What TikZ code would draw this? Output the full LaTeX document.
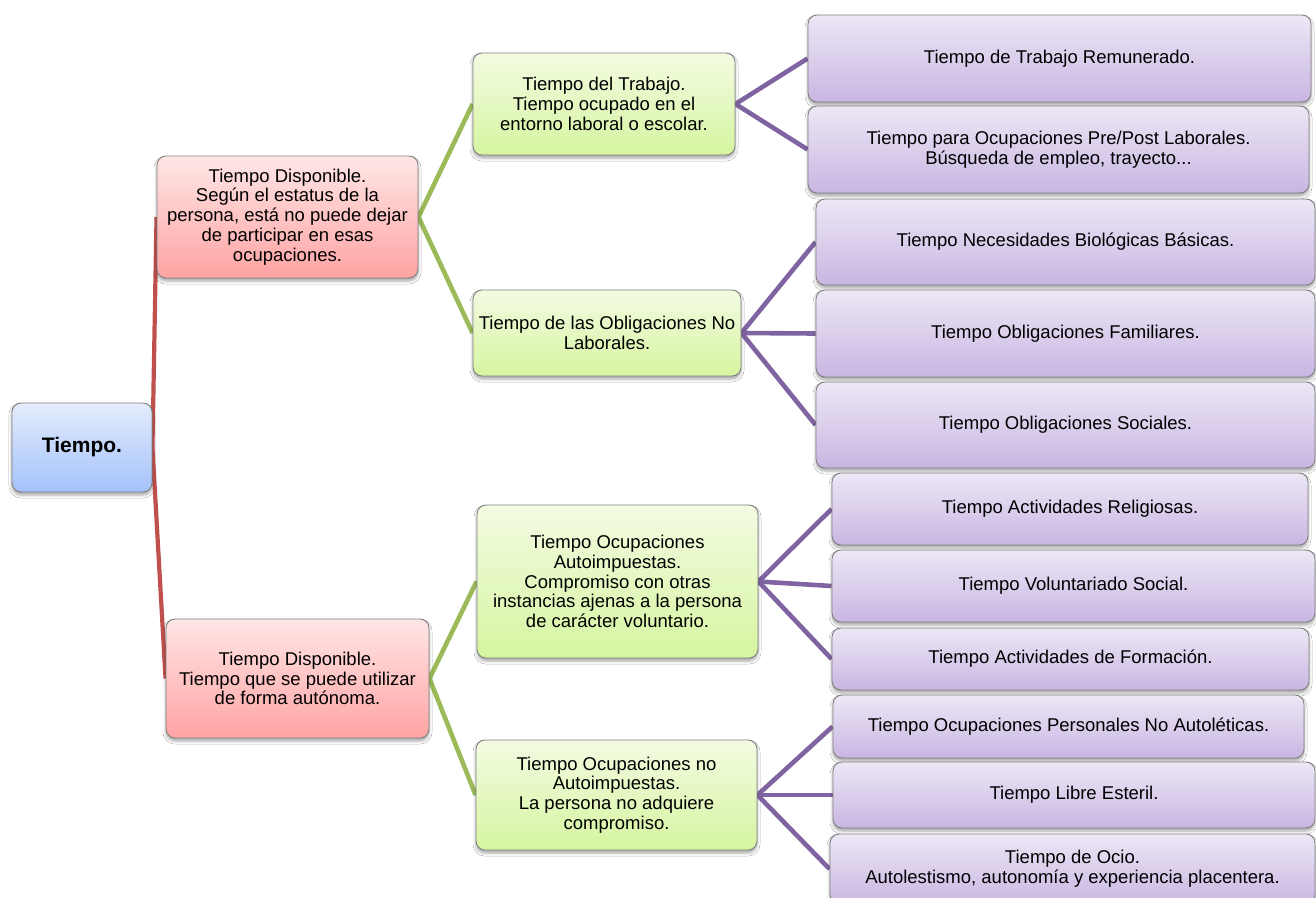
\documentclass[tikz,border=0pt]{standalone}
\usepackage{fontspec}
\setmainfont{Liberation Sans}
\usetikzlibrary{shadows.blur,backgrounds}

\definecolor{boxline}{RGB}{128,128,128}
\definecolor{blueTop}{RGB}{228,236,253}
\definecolor{blueBot}{RGB}{163,194,250}
\definecolor{redTop}{RGB}{255,230,230}
\definecolor{redBot}{RGB}{255,163,163}
\definecolor{greenTop}{RGB}{243,251,226}
\definecolor{greenBot}{RGB}{214,245,160}
\definecolor{lilacTop}{RGB}{237,231,246}
\definecolor{lilacBot}{RGB}{200,182,226}
\definecolor{redLink}{RGB}{192,80,77}
\definecolor{greenLink}{RGB}{155,187,89}
\definecolor{lilacLink}{RGB}{128,100,162}

\begin{document}
\begin{tikzpicture}[x=1pt,y=-1pt,
  box/.style={draw=boxline, line width=0.9pt, rounded corners=9pt,
    align=center, inner sep=2pt,
    font=\fontsize{18.5}{19.8}\selectfont,
    blur shadow={shadow xshift=0pt, shadow yshift=-3pt,
      shadow blur radius=3pt, shadow opacity=35}},
  rootbox/.style={box, top color=blueTop, bottom color=blueBot,
    font=\fontsize{21}{23}\selectfont\bfseries},
  redbox/.style={box, top color=redTop, bottom color=redBot},
  greenbox/.style={box, top color=greenTop, bottom color=greenBot},
  lilacbox/.style={box, top color=lilacTop, bottom color=lilacBot},
  redlink/.style={draw=redLink, line width=4.2pt},
  greenlink/.style={draw=greenLink, line width=4.6pt},
  lilaclink/.style={draw=lilacLink, line width=4.6pt}
]
\useasboundingbox (0,0) rectangle (1316,897);

% root
\node[rootbox, minimum width=140pt, minimum height=89pt] (root) at (82,447.5) {Tiempo.};

% second level
\node[redbox, minimum width=261pt, minimum height=122pt] (red1) at (287.5,217)
  {Tiempo Disponible.\\Según el estatus de la\\persona, está no puede dejar\\de participar en esas\\ocupaciones.};
\node[redbox, minimum width=263pt, minimum height=119pt] (red2) at (297.5,678.5)
  {Tiempo Disponible.\\Tiempo que se puede utilizar\\de forma autónoma.};

% third level
\node[greenbox, minimum width=262pt, minimum height=102pt] (g1) at (604,104)
  {Tiempo del Trabajo.\\Tiempo ocupado en el\\entorno laboral o escolar.};
\node[greenbox, minimum width=268pt, minimum height=86pt, inner sep=0pt] (g2) at (607,333)
  {Tiempo de las Obligaciones No\\Laborales.};
\node[greenbox, minimum width=281pt, minimum height=153pt] (g3) at (617.5,581.5)
  {Tiempo Ocupaciones\\Autoimpuestas.\\Compromiso con otras\\instancias ajenas a la persona\\de carácter voluntario.};
\node[greenbox, minimum width=281pt, minimum height=110pt] (g4) at (616.5,795)
  {Tiempo Ocupaciones no\\Autoimpuestas.\\La persona no adquiere\\compromiso.};

% fourth level
\node[lilacbox, minimum width=503pt, minimum height=87pt] (p1) at (1059.5,58.5)
  {Tiempo de Trabajo Remunerado.};
\node[lilacbox, minimum width=501pt, minimum height=87pt] (p2) at (1058.5,149.5)
  {Tiempo para Ocupaciones Pre/Post Laborales.\\Búsqueda de empleo, trayecto...};
\node[lilacbox, minimum width=499pt, minimum height=86pt] (p3) at (1065.5,242)
  {Tiempo Necesidades Biológicas Básicas.};
\node[lilacbox, minimum width=499pt, minimum height=87pt] (p4) at (1065.5,333.5)
  {Tiempo Obligaciones Familiares.};
\node[lilacbox, minimum width=499pt, minimum height=86pt] (p5) at (1065.5,425)
  {Tiempo Obligaciones Sociales.};
\node[lilacbox, minimum width=476pt, minimum height=72pt] (p6) at (1070,509)
  {Tiempo Actividades Religiosas.};
\node[lilacbox, minimum width=483pt, minimum height=72pt] (p7) at (1073.5,586)
  {Tiempo Voluntariado Social.};
\node[lilacbox, minimum width=477pt, minimum height=62pt] (p8) at (1070.5,659)
  {Tiempo Actividades de Formación.};
\node[lilacbox, minimum width=471pt, minimum height=63pt] (p9) at (1068.5,726.5)
  {Tiempo Ocupaciones Personales No Autoléticas.};
\node[lilacbox, minimum width=482pt, minimum height=66pt] (p10) at (1074,795)
  {Tiempo Libre Esteril.};
\node[lilacbox, minimum width=485pt, minimum height=70pt] (p11) at (1072.5,869)
  {Tiempo de Ocio.\\Autolestismo, autonomía y experiencia placentera.};

% white page, then the connectors, all behind the boxes
\begin{scope}[on background layer]
  \fill[white] (0,0) rectangle (1316,897);
  \draw[redlink] (root.east) -- (red1.west);
  \draw[redlink] (root.east) -- (red2.west);
  \draw[greenlink] (red1.east) -- (g1.west);
  \draw[greenlink] (red1.east) -- (g2.west);
  \draw[greenlink] (red2.east) -- (g3.west);
  \draw[greenlink] (red2.east) -- (g4.west);
  \draw[lilaclink] (g1.east) -- (p1.west);
  \draw[lilaclink] (g1.east) -- (p2.west);
  \draw[lilaclink] (g2.east) -- (p3.west);
  \draw[lilaclink] (g2.east) -- (p4.west);
  \draw[lilaclink] (g2.east) -- (p5.west);
  \draw[lilaclink] (g3.east) -- (p6.west);
  \draw[lilaclink] (g3.east) -- (p7.west);
  \draw[lilaclink] (g3.east) -- (p8.west);
  \draw[lilaclink] (g4.east) -- (p9.west);
  \draw[lilaclink] (g4.east) -- (p10.west);
  \draw[lilaclink] (g4.east) -- (p11.west);
\end{scope}
\end{tikzpicture}
\end{document}
